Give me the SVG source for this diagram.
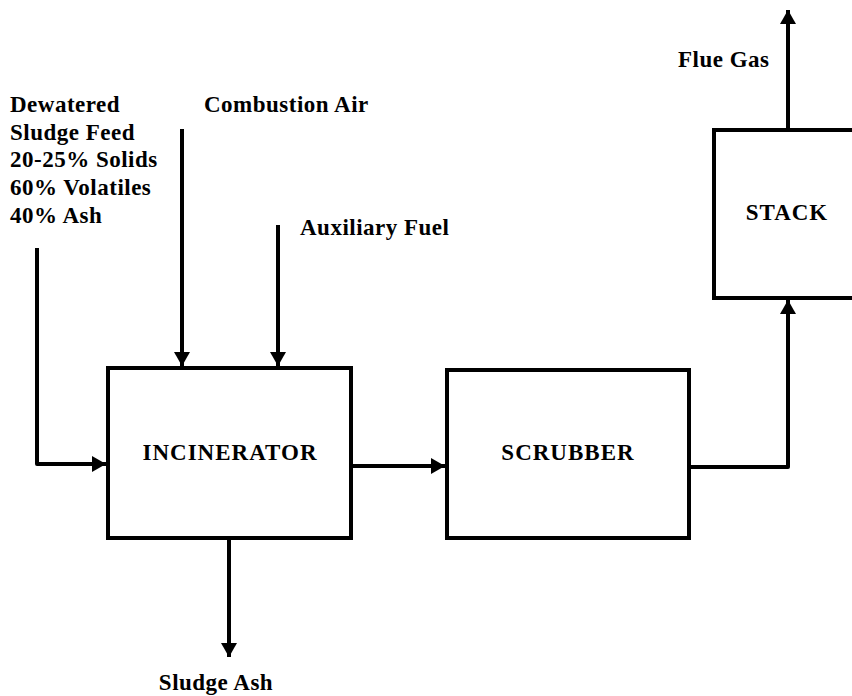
<svg xmlns="http://www.w3.org/2000/svg" width="852" height="696" viewBox="0 0 852 696">
<style>
text{font-family:"Liberation Serif","Times New Roman",serif;font-weight:bold;font-size:23px;letter-spacing:0.5px;fill:#000}
.nl{letter-spacing:1px}
.box{fill:#fff;stroke:#000;stroke-width:4}
.ln{fill:none;stroke:#000;stroke-width:4;stroke-linejoin:round}
</style>
<defs>
<marker id="ah" viewBox="0 0 14 16" refX="14" refY="8" markerWidth="14" markerHeight="16" markerUnits="userSpaceOnUse" orient="auto">
<path d="M0,0 L14,8 L0,16 Z" fill="#000"/>
</marker>
</defs>
<rect width="852" height="696" fill="#fff"/>
<g id="connectors">
<path class="ln" d="M37,248 V464 H106" marker-end="url(#ah)"/>
<path class="ln" d="M182,129 V366" marker-end="url(#ah)"/>
<path class="ln" d="M278,225 V366" marker-end="url(#ah)"/>
<path class="ln" d="M351,466 H445" marker-end="url(#ah)"/>
<path class="ln" d="M689,467 H788 V300" marker-end="url(#ah)"/>
<path class="ln" d="M788,130 V10" marker-end="url(#ah)"/>
<path class="ln" d="M229,538 V657" marker-end="url(#ah)"/>
</g>
<g id="incinerator">
<rect class="box" x="108" y="368" width="243" height="170"/>
<text class="nl" x="230" y="460" text-anchor="middle">INCINERATOR</text>
</g>
<g id="scrubber">
<rect class="box" x="447" y="370" width="242" height="168"/>
<text class="nl" x="568" y="460" text-anchor="middle">SCRUBBER</text>
</g>
<g id="stack">
<rect class="box" x="714" y="130" width="150" height="168"/>
<text class="nl" x="787" y="220" text-anchor="middle">STACK</text>
</g>
<g id="labels">
<text x="10" y="112">Dewatered</text>
<text x="10" y="140">Sludge Feed</text>
<text x="10" y="167">20-25% Solids</text>
<text x="10" y="195">60% Volatiles</text>
<text x="10" y="223">40% Ash</text>
<text x="204" y="112">Combustion Air</text>
<text x="300" y="235">Auxiliary Fuel</text>
<text x="678" y="67">Flue Gas</text>
<text x="216" y="690" text-anchor="middle">Sludge Ash</text>
</g>
</svg>
